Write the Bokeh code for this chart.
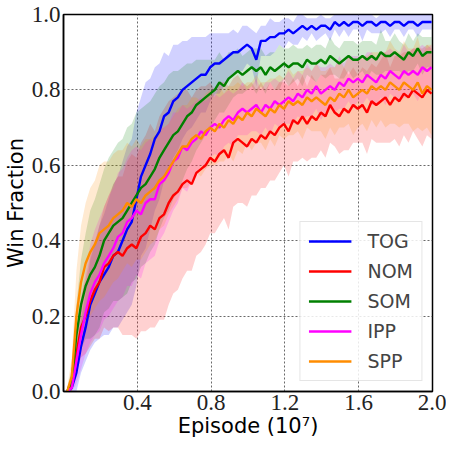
import numpy as np
from bokeh.plotting import figure
from bokeh.models import Range1d, FixedTicker, Legend, LegendItem, PrintfTickFormatter
from bokeh.embed import file_html
from bokeh.resources import INLINE

# Episode grid (x 10^7)
episode = np.round(0.02 + 0.025 * np.arange(80), 3)

series_names = ["TOG", "NOM", "SOM", "IPP", "SPP"]
series_colors = ["#0000ff", "#ff0000", "#008000", "#ff00ff", "#ff8c00"]

tog = [0.00, 0.01, 0.05, 0.12, 0.17, 0.23, 0.26, 0.29, 0.31, 0.33,
       0.36, 0.37, 0.40, 0.43, 0.45, 0.51, 0.57, 0.60, 0.63, 0.67,
       0.69, 0.73, 0.74, 0.77, 0.78, 0.80, 0.81, 0.82, 0.83, 0.84,
       0.84, 0.86, 0.87, 0.87, 0.88, 0.89, 0.90, 0.90, 0.91, 0.92,
       0.91, 0.88, 0.93, 0.93, 0.94, 0.94, 0.95, 0.95, 0.96, 0.95,
       0.96, 0.97, 0.96, 0.97, 0.96, 0.97, 0.97, 0.96, 0.98, 0.97,
       0.98, 0.97, 0.98, 0.98, 0.97, 0.98, 0.98, 0.97, 0.98, 0.98,
       0.97, 0.98, 0.98, 0.97, 0.98, 0.98, 0.97, 0.98, 0.98, 0.98]
nom = [0.00, 0.02, 0.10, 0.17, 0.20, 0.24, 0.27, 0.29, 0.33, 0.34,
       0.36, 0.37, 0.36, 0.38, 0.39, 0.38, 0.41, 0.42, 0.44, 0.43,
       0.46, 0.47, 0.50, 0.52, 0.53, 0.55, 0.56, 0.55, 0.58, 0.59,
       0.60, 0.62, 0.61, 0.63, 0.64, 0.62, 0.66, 0.67, 0.66, 0.65,
       0.67, 0.66, 0.68, 0.67, 0.69, 0.68, 0.70, 0.71, 0.69, 0.72,
       0.71, 0.73, 0.71, 0.73, 0.72, 0.74, 0.73, 0.76, 0.74, 0.73,
       0.75, 0.74, 0.76, 0.75, 0.76, 0.74, 0.77, 0.76, 0.77, 0.78,
       0.76, 0.78, 0.77, 0.79, 0.78, 0.80, 0.79, 0.78, 0.80, 0.79]
som = [0.00, 0.03, 0.15, 0.23, 0.28, 0.31, 0.33, 0.36, 0.40, 0.42,
       0.44, 0.45, 0.46, 0.48, 0.50, 0.52, 0.54, 0.55, 0.57, 0.59,
       0.62, 0.64, 0.66, 0.68, 0.69, 0.71, 0.73, 0.74, 0.76, 0.77,
       0.78, 0.79, 0.80, 0.82, 0.81, 0.83, 0.84, 0.85, 0.84, 0.85,
       0.86, 0.85, 0.86, 0.84, 0.86, 0.85, 0.86, 0.87, 0.86, 0.87,
       0.87, 0.86, 0.88, 0.87, 0.87, 0.88, 0.87, 0.89, 0.88, 0.87,
       0.88, 0.89, 0.88, 0.88, 0.89, 0.88, 0.89, 0.88, 0.90, 0.89,
       0.89, 0.90, 0.89, 0.88, 0.90, 0.89, 0.91, 0.89, 0.90, 0.90]
ipp = [0.00, 0.01, 0.08, 0.15, 0.21, 0.26, 0.29, 0.31, 0.34, 0.36,
       0.38, 0.41, 0.42, 0.45, 0.46, 0.48, 0.47, 0.50, 0.51, 0.51,
       0.55, 0.56, 0.58, 0.61, 0.62, 0.65, 0.64, 0.66, 0.67, 0.69,
       0.68, 0.70, 0.71, 0.70, 0.72, 0.73, 0.72, 0.74, 0.75, 0.74,
       0.75, 0.76, 0.74, 0.76, 0.75, 0.77, 0.76, 0.77, 0.78, 0.77,
       0.79, 0.78, 0.80, 0.79, 0.81, 0.79, 0.80, 0.81, 0.80, 0.82,
       0.81, 0.83, 0.82, 0.83, 0.82, 0.84, 0.83, 0.82, 0.84, 0.83,
       0.85, 0.84, 0.83, 0.85, 0.84, 0.85, 0.84, 0.86, 0.85, 0.86]
spp = [0.00, 0.04, 0.20, 0.29, 0.34, 0.37, 0.39, 0.42, 0.43, 0.44,
       0.46, 0.47, 0.48, 0.50, 0.49, 0.51, 0.50, 0.52, 0.53, 0.54,
       0.56, 0.57, 0.59, 0.61, 0.63, 0.65, 0.65, 0.67, 0.68, 0.67,
       0.69, 0.70, 0.69, 0.71, 0.70, 0.72, 0.71, 0.73, 0.72, 0.74,
       0.73, 0.75, 0.74, 0.73, 0.75, 0.74, 0.76, 0.75, 0.77, 0.76,
       0.77, 0.76, 0.78, 0.77, 0.78, 0.77, 0.76, 0.78, 0.77, 0.79,
       0.78, 0.80, 0.78, 0.79, 0.80, 0.79, 0.81, 0.80, 0.81, 0.80,
       0.82, 0.81, 0.80, 0.82, 0.81, 0.80, 0.82, 0.79, 0.81, 0.80]

# Spread (half-width of the shaded band) for each series
tog_sd = [0.01, 0.02, 0.05, 0.07, 0.09, 0.12, 0.13, 0.15, 0.16, 0.18,
          0.19, 0.20, 0.21, 0.22, 0.22, 0.23, 0.21, 0.22, 0.20, 0.19,
          0.18, 0.17, 0.15, 0.15, 0.14, 0.13, 0.12, 0.12, 0.11, 0.10,
          0.10, 0.09, 0.08, 0.08, 0.07, 0.06, 0.06, 0.05, 0.06, 0.05,
          0.05, 0.07, 0.04, 0.04, 0.05, 0.04, 0.03, 0.04, 0.03, 0.03,
          0.04, 0.03, 0.03, 0.02, 0.03, 0.03, 0.02, 0.03, 0.02, 0.03,
          0.02, 0.03, 0.02, 0.02, 0.04, 0.02, 0.03, 0.02, 0.03, 0.02,
          0.03, 0.02, 0.02, 0.03, 0.02, 0.02, 0.03, 0.02, 0.02, 0.02]
nom_sd = [0.01, 0.02, 0.05, 0.08, 0.10, 0.12, 0.13, 0.15, 0.16, 0.18,
          0.19, 0.20, 0.21, 0.23, 0.24, 0.24, 0.25, 0.26, 0.27, 0.26,
          0.27, 0.28, 0.27, 0.26, 0.26, 0.25, 0.24, 0.23, 0.22, 0.22,
          0.21, 0.20, 0.19, 0.19, 0.18, 0.19, 0.17, 0.17, 0.16, 0.16,
          0.15, 0.14, 0.14, 0.13, 0.13, 0.12, 0.12, 0.11, 0.12, 0.11,
          0.10, 0.11, 0.10, 0.11, 0.10, 0.10, 0.11, 0.10, 0.09, 0.10,
          0.11, 0.10, 0.10, 0.09, 0.10, 0.11, 0.10, 0.10, 0.11, 0.12,
          0.10, 0.11, 0.12, 0.11, 0.12, 0.11, 0.12, 0.13, 0.12, 0.12]
som_sd = [0.01, 0.03, 0.08, 0.12, 0.14, 0.17, 0.18, 0.19, 0.19, 0.20,
          0.20, 0.21, 0.21, 0.22, 0.21, 0.22, 0.21, 0.21, 0.20, 0.20,
          0.19, 0.18, 0.18, 0.17, 0.16, 0.15, 0.14, 0.13, 0.12, 0.11,
          0.10, 0.09, 0.08, 0.08, 0.07, 0.07, 0.06, 0.06, 0.05, 0.05,
          0.05, 0.06, 0.05, 0.05, 0.04, 0.05, 0.06, 0.04, 0.05, 0.05,
          0.04, 0.05, 0.04, 0.04, 0.05, 0.04, 0.04, 0.05, 0.04, 0.04,
          0.05, 0.04, 0.05, 0.04, 0.04, 0.05, 0.04, 0.04, 0.06, 0.04,
          0.04, 0.05, 0.04, 0.04, 0.05, 0.04, 0.04, 0.05, 0.04, 0.04]
ipp_sd = [0.01, 0.02, 0.06, 0.09, 0.11, 0.13, 0.14, 0.15, 0.15, 0.16,
          0.16, 0.17, 0.17, 0.17, 0.18, 0.17, 0.17, 0.16, 0.16, 0.15,
          0.15, 0.14, 0.13, 0.13, 0.12, 0.11, 0.11, 0.10, 0.10, 0.09,
          0.09, 0.08, 0.08, 0.08, 0.07, 0.07, 0.07, 0.06, 0.07, 0.06,
          0.06, 0.07, 0.06, 0.06, 0.07, 0.06, 0.06, 0.06, 0.07, 0.06,
          0.06, 0.06, 0.07, 0.06, 0.06, 0.07, 0.06, 0.06, 0.06, 0.07,
          0.06, 0.06, 0.07, 0.06, 0.06, 0.06, 0.07, 0.06, 0.06, 0.07,
          0.06, 0.06, 0.06, 0.07, 0.06, 0.06, 0.07, 0.06, 0.06, 0.06]
spp_sd = [0.01, 0.05, 0.12, 0.15, 0.16, 0.17, 0.17, 0.18, 0.18, 0.17,
          0.17, 0.17, 0.16, 0.16, 0.16, 0.16, 0.15, 0.15, 0.14, 0.14,
          0.13, 0.13, 0.12, 0.12, 0.12, 0.11, 0.11, 0.11, 0.10, 0.10,
          0.10, 0.10, 0.09, 0.10, 0.09, 0.09, 0.10, 0.09, 0.09, 0.08,
          0.09, 0.09, 0.08, 0.09, 0.08, 0.09, 0.08, 0.08, 0.09, 0.08,
          0.08, 0.09, 0.08, 0.08, 0.09, 0.08, 0.09, 0.08, 0.09, 0.09,
          0.08, 0.09, 0.10, 0.09, 0.09, 0.10, 0.09, 0.10, 0.09, 0.10,
          0.11, 0.10, 0.10, 0.11, 0.10, 0.11, 0.12, 0.10, 0.11, 0.12]

x_ticks = [0.4, 0.8, 1.2, 1.6, 2.0]
y_ticks = [0.0, 0.2, 0.4, 0.6, 0.8, 1.0]

means = [tog, nom, som, ipp, spp]
spreads = [tog_sd, nom_sd, som_sd, ipp_sd, spp_sd]

p = figure(width=446, height=443, output_backend="svg", toolbar_location=None,
           x_range=Range1d(0, 2.0), y_range=Range1d(0, 1.0),
           min_border_left=58, min_border_right=14, min_border_top=14,
           min_border_bottom=52)
p.background_fill_color = "white"
p.border_fill_color = "white"
p.outline_line_color = "black"
p.outline_line_width = 1.5

for m, s, c in zip(means, spreads, series_colors):
    m = np.array(m)
    s = np.array(s)
    lo = np.clip(m - s, 0, 1)
    hi = np.clip(m + s, 0, 1)
    p.varea(x=episode, y1=lo, y2=hi, fill_color=c, fill_alpha=0.18)

items = []
for m, c, n in zip(means, series_colors, series_names):
    r = p.line(episode, m, line_color=c, line_width=2.4)
    items.append(LegendItem(label=n, renderers=[r]))

legend = Legend(items=items, location="bottom_right")
legend.label_text_font = "DejaVu Sans"
legend.label_text_font_size = "19px"
legend.glyph_width = 43
legend.glyph_height = 20
legend.label_height = 20
legend.spacing = 8
legend.padding = 8
legend.margin = 10
legend.label_standoff = 16
legend.border_line_color = "#cccccc"
legend.border_line_width = 1
legend.background_fill_alpha = 0.85
p.add_layout(legend)

for ax in (p.xaxis, p.yaxis):
    ax.axis_line_color = "black"
    ax.axis_line_width = 1.5
    ax.major_tick_out = 0
    ax.major_tick_in = 0
    ax.minor_tick_out = 0
    ax.minor_tick_in = 0
    ax.major_label_text_font = "Liberation Serif"
    ax.major_label_text_font_size = "23px"
    ax.major_label_text_color = "#222222"
    ax.major_label_standoff = 3
    ax.axis_label_text_font = "DejaVu Sans"
    ax.axis_label_text_font_size = "21px"
    ax.axis_label_text_font_style = "normal"
    ax.axis_label_text_color = "black"
    ax.axis_label_standoff = 1
    ax[0].formatter = PrintfTickFormatter(format="%.1f")

p.xaxis.ticker = FixedTicker(ticks=x_ticks)
p.yaxis.ticker = FixedTicker(ticks=y_ticks)
p.xaxis.axis_label = "Episode (10\u2077)"
p.yaxis.axis_label = "Win Fraction"

for g in (p.xgrid, p.ygrid):
    g.grid_line_color = "#444444"
    g.grid_line_dash = "2 2"
    g.grid_line_width = 1
    g.grid_line_alpha = 0.8
p.xgrid.ticker = FixedTicker(ticks=x_ticks)
p.ygrid.ticker = FixedTicker(ticks=y_ticks)

open("out.html", "w").write(file_html(p, INLINE))
